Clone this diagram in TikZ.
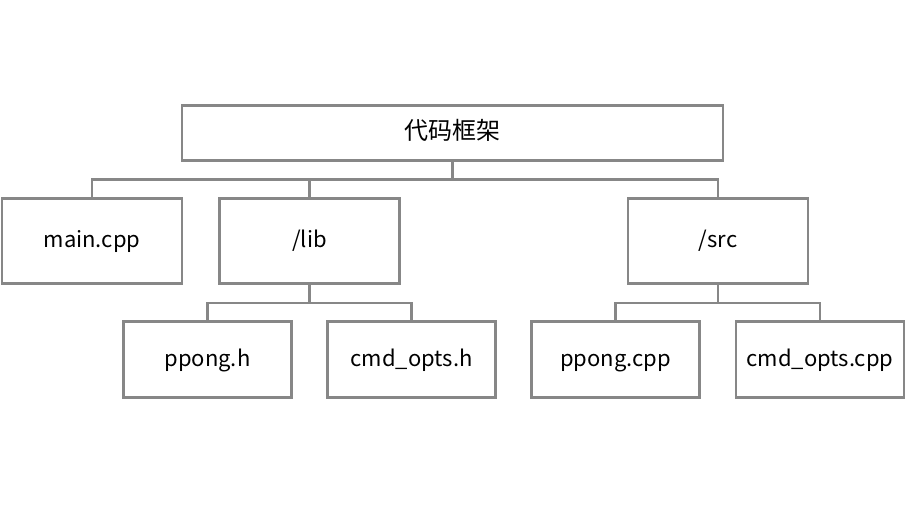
\documentclass[tikz,border=0pt]{standalone}
\usepackage{fontspec}
\setmainfont{Noto Sans CJK SC}
\usepackage{tikz}
\usetikzlibrary{calc}
\definecolor{linegray}{RGB}{135, 135, 135}

\begin{document}
\begin{tikzpicture}[x=1pt, y=-1pt,
    box/.style={draw=linegray, line width=2.3pt, fill=white, inner sep=0pt,
                text height=16pt, text depth=3pt,
                font=\fontsize{22}{26}\selectfont},
    wire/.style={draw=linegray, line width=2.3pt}]
    % Canvas
    \useasboundingbox (0,0) rectangle (912,505);

    % Top level
    \node[box, minimum width=541, minimum height=55,
          font=\fontsize{24}{28}\selectfont] (root) at (452.5, 133) {代码框架};

    % Second level
    \node[box, minimum width=180, minimum height=85] (main) at (92, 241) {main.cpp};
    \node[box, minimum width=180, minimum height=85] (lib)  at (309.5, 241) {/lib};
    \node[box, minimum width=180, minimum height=85] (src)  at (718, 241) {/src};

    % Third level
    \node[box, minimum width=168, minimum height=76] (ppongh)   at (207.5, 359.5) {ppong.h};
    \node[box, minimum width=168, minimum height=76] (optsh)    at (411.5, 359.5) {cmd\_opts.h};
    \node[box, minimum width=168, minimum height=76] (ppongcpp) at (615.5, 359.5) {ppong.cpp};
    \node[box, minimum width=168, minimum height=76] (optscpp)  at (820, 359.5) {cmd\_opts.cpp};

    % Connectors from root
    \coordinate (rootbar) at ($(root.south)+(0,18)$);
    \draw[wire] (root.south) -- (rootbar);
    \draw[wire] (rootbar) -| (main.north);
    \draw[wire] (rootbar) -| (lib.north);
    \draw[wire] (rootbar) -| (src.north);

    % Connectors from /lib
    \coordinate (libbar) at ($(lib.south)+(0,18)$);
    \draw[wire] (lib.south) -- (libbar);
    \draw[wire] (libbar) -| (ppongh.north);
    \draw[wire] (libbar) -| (optsh.north);

    % Connectors from /src
    \coordinate (srcbar) at ($(src.south)+(0,18)$);
    \draw[wire] (src.south) -- (srcbar);
    \draw[wire] (srcbar) -| (ppongcpp.north);
    \draw[wire] (srcbar) -| (optscpp.north);
\end{tikzpicture}
\end{document}
